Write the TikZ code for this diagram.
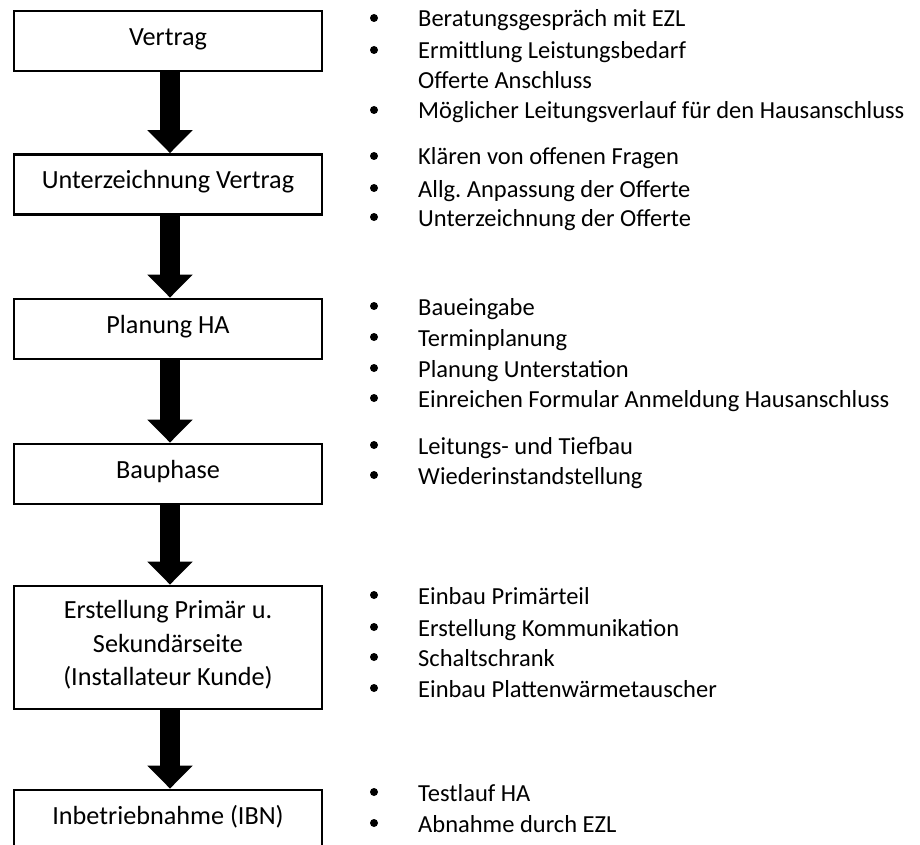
\documentclass[tikz,border=0pt]{standalone}
\usepackage{fontspec}
\setmainfont{Carlito}
\usetikzlibrary{arrows.meta}
\frenchspacing
\begin{document}
\begin{tikzpicture}[x=1pt,y=-1pt,
  box/.style={draw, line width=2.8pt, minimum width=308pt, minimum height=60pt, inner sep=0pt, align=center, font=\fontsize{26.2}{33.5}\selectfont, text height=17pt, text depth=8pt},
  flow/.style={line width=20pt, -{Triangle[length=23pt,width=44pt]}},
  dot/.style={circle, fill, inner sep=0pt, minimum size=8pt},
  item/.style={anchor=base west, inner sep=0pt, font=\fontsize{24.5}{30}\selectfont}]
\useasboundingbox (0,0) rectangle (920,845);
\fill[white] (0,0) rectangle (920,845);
% boxes
\node[box] (b1) at (168,41) {Vertrag};
\node[box] (b2) at (168,184.5) {Unterzeichnung Vertrag};
\node[box] (b3) at (168,329) {Planung HA};
\node[box] (b4) at (168,474) {Bauphase};
\node[box, minimum height=123pt, text height=84pt] (b5) at (168,647.5) {Erstellung Primär u.\\Sekundärseite\\(Installateur Kunde)};
\node[box] (b6) at (168,820) {Inbetriebnahme (IBN)};
% arrows
\foreach \a/\b in {b1/b2,b2/b3,b3/b4,b4/b5,b5/b6}
  \draw[flow] ([xshift=2pt]\a.south) -- ([xshift=2pt]\b.north);
% group 1
\node[dot] (d11) at (374,18) {};
\node[item] (t11) at (418,27) {Beratungsgespräch mit EZL};
\node[dot] (d12) at (374,50) {};
\node[item] (t12) at (418,59) {Ermittlung Leistungsbedarf};
\node[item] (t13) at (418,89) {Offerte Anschluss};
\node[dot] (d14) at (374,110) {};
\node[item] (t14) at (418,119) {Möglicher Leitungsverlauf für den Hausanschluss};
% group 2
\node[dot] (d21) at (374,156) {};
\node[item] (t21) at (418,165) {Klären von offenen Fragen};
\node[dot] (d22) at (374,188) {};
\node[item] (t22) at (418,197) {Allg. Anpassung der Offerte};
\node[dot] (d23) at (374,217) {};
\node[item] (t23) at (418,226) {Unterzeichnung der Offerte};
% group 3
\node[dot] (d31) at (374,306) {};
\node[item] (t31) at (418,315) {Baueingabe};
\node[dot] (d32) at (374,337) {};
\node[item] (t32) at (418,346) {Terminplanung};
\node[dot] (d33) at (374,368) {};
\node[item] (t33) at (418,377) {Planung Unterstation};
\node[dot] (d34) at (374,398) {};
\node[item] (t34) at (418,407) {Einreichen Formular Anmeldung Hausanschluss};
% group 4
\node[dot] (d41) at (374,445) {};
\node[item] (t41) at (418,454) {Leitungs- und Tiefbau};
\node[dot] (d42) at (374,475) {};
\node[item] (t42) at (418,484) {Wiederinstandstellung};
% group 5
\node[dot] (d51) at (374,595) {};
\node[item] (t51) at (418,604) {Einbau Primärteil};
\node[dot] (d52) at (374,627) {};
\node[item] (t52) at (418,636) {Erstellung Kommunikation};
\node[dot] (d53) at (374,657) {};
\node[item] (t53) at (418,666) {Schaltschrank};
\node[dot] (d54) at (374,688) {};
\node[item] (t54) at (418,697) {Einbau Plattenwärmetauscher};
% group 6
\node[dot] (d61) at (374,792) {};
\node[item] (t61) at (418,801) {Testlauf HA};
\node[dot] (d62) at (374,823) {};
\node[item] (t62) at (418,832) {Abnahme durch EZL};
\end{tikzpicture}
\end{document}
